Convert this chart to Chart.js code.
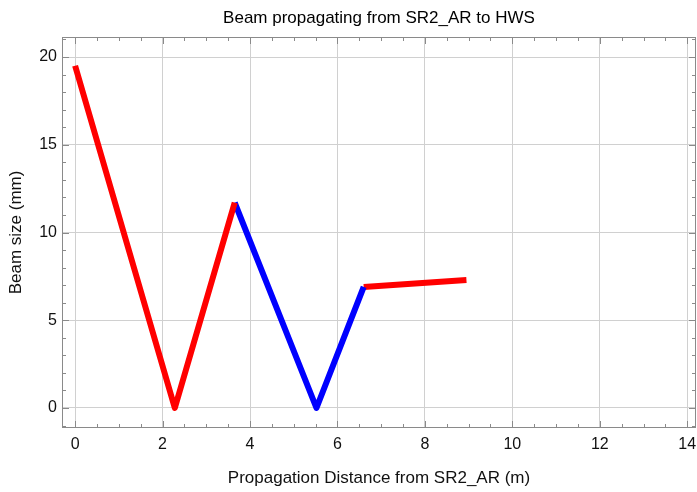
<!DOCTYPE html>
<html>
<head>
<meta charset="utf-8">
<script src="https://cdn.jsdelivr.net/npm/chart.js@4/dist/chart.umd.min.js"></script>
<style>
  html, body { margin: 0; padding: 0; background: #fff; }
  #wrap { width: 697px; height: 492px; }
</style>
</head>
<body>
<div id="wrap"><canvas id="beamChart" width="697" height="492"></canvas></div>
<script>
// beam size along the path, split into the three drawn segments
const segA = [[0, 19.5], [2.28, 0], [3.65, 11.7]];
const segB = [[3.65, 11.7], [5.52, 0], [6.6, 6.9]];
const segC = [[6.6, 6.9], [8.95, 7.3]];

const xTicks = [0, 2, 4, 6, 8, 10, 12, 14];
const yTicks = [0, 5, 10, 15, 20];
const xMinorStep = 0.5;
const yMinorStep = 1;

const FONT = 'Liberation Sans, Arial, sans-serif';

const toPts = seg => seg.map(([x, y]) => ({ x, y }));

// frame, inward ticks on all four sides and the title
const framePlugin = {
  id: 'frame',
  afterDraw(chart) {
    const { ctx, chartArea: a, scales: { x, y } } = chart;
    ctx.save();
    ctx.strokeStyle = '#8a8a8a';
    ctx.lineWidth = 1;
    ctx.strokeRect(a.left + 0.5, a.top + 0.5, a.right - a.left - 1, a.bottom - a.top - 1);

    const tick = (x1, y1, x2, y2) => {
      ctx.beginPath(); ctx.moveTo(x1, y1); ctx.lineTo(x2, y2); ctx.stroke();
    };
    for (let v = Math.ceil(x.min / xMinorStep) * xMinorStep; v <= x.max; v += xMinorStep) {
      const px = Math.round(x.getPixelForValue(v)) + 0.5;
      const len = xTicks.includes(Math.round(v * 100) / 100) ? 7 : 4;
      tick(px, a.bottom, px, a.bottom - len);
      tick(px, a.top, px, a.top + len);
    }
    for (let v = Math.ceil(y.min / yMinorStep) * yMinorStep; v <= y.max; v += yMinorStep) {
      const py = Math.round(y.getPixelForValue(v)) + 0.5;
      const len = yTicks.includes(v) ? 7 : 4;
      tick(a.left, py, a.left + len, py);
      tick(a.right, py, a.right - len, py);
    }

    ctx.fillStyle = '#000';
    ctx.font = '17px ' + FONT;
    ctx.textAlign = 'center';
    ctx.textBaseline = 'alphabetic';
    ctx.fillText('Beam propagating from SR2_AR to HWS', (a.left + a.right) / 2, 23);
    ctx.restore();
  }
};

const lineSet = (data, color) => ({
  data: toPts(data),
  borderColor: color,
  backgroundColor: color,
  borderWidth: 6,
  borderJoinStyle: 'round',
  borderCapStyle: 'butt',
  pointRadius: 0,
  showLine: true,
  tension: 0
});

new Chart(document.getElementById('beamChart'), {
  type: 'scatter',
  data: {
    datasets: [
      lineSet(segA, '#ff0000'),
      lineSet(segB, '#0000ff'),
      lineSet(segC, '#ff0000')
    ]
  },
  options: {
    responsive: false,
    animation: false,
    layout: { padding: { top: 37, right: 1, bottom: 0, left: 0 } },
    plugins: { legend: { display: false }, tooltip: { enabled: false } },
    scales: {
      x: {
        type: 'linear',
        min: -0.3,
        max: 14.2,
        afterBuildTicks: s => { s.ticks = xTicks.map(v => ({ value: v })); },
        afterFit: s => { s.height = 64; s.paddingLeft = 0; s.paddingRight = 0; },
        grid: { color: '#d0d0d0', lineWidth: 1, drawTicks: false },
        border: { display: false },
        ticks: { color: '#111', font: { family: FONT, size: 16 }, padding: 7 },
        title: {
          display: true,
          text: 'Propagation Distance from SR2_AR (m)',
          color: '#111',
          font: { family: FONT, size: 17 },
          padding: { top: 0, bottom: 3 }
        }
      },
      y: {
        type: 'linear',
        min: -1.14,
        max: 21.14,
        afterBuildTicks: s => { s.ticks = yTicks.map(v => ({ value: v })); },
        afterFit: s => { s.width = 62; s.paddingTop = 0; s.paddingBottom = 0; },
        grid: { color: '#d0d0d0', lineWidth: 1, drawTicks: false },
        border: { display: false },
        ticks: { color: '#111', font: { family: FONT, size: 16 }, padding: 5 },
        title: {
          display: true,
          text: 'Beam size (mm)',
          color: '#111',
          font: { family: FONT, size: 17 },
          padding: { top: 6, bottom: 0 }
        }
      }
    }
  },
  plugins: [framePlugin]
});
</script>
</body>
</html>
